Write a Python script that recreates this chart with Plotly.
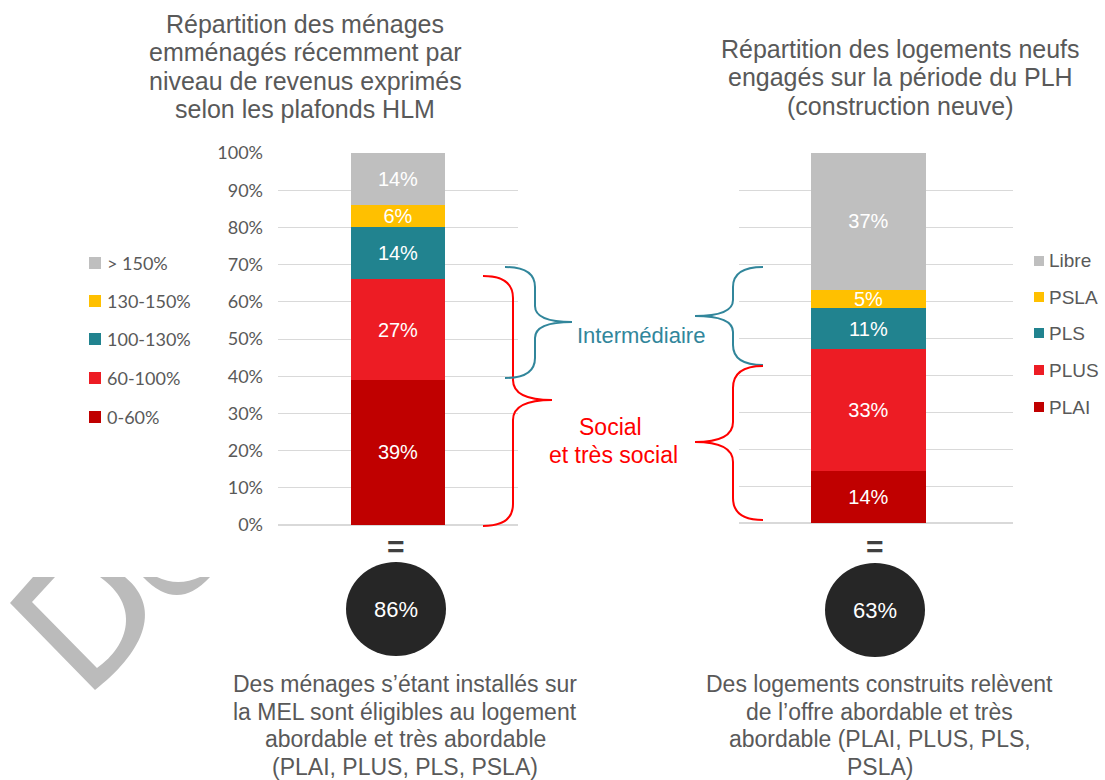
import plotly.graph_objects as go

W, H = 1105, 780

# ---------------- data ----------------
left_categories = ["0-60%", "60-100%", "100-130%", "130-150%", "> 150%"]
left_values = [39, 27, 14, 6, 14]
right_categories = ["PLAI", "PLUS", "PLS", "PSLA", "Libre"]
right_values = [14, 33, 11, 5, 37]
seg_colors = ["#C00000", "#ED1C24", "#21838F", "#FFC000", "#BFBFBF"]
tick_values = [0, 10, 20, 30, 40, 50, 60, 70, 80, 90, 100]
tick_labels = [f"{v}%" for v in tick_values]

left_title = ["Répartition des ménages", "emménagés récemment par",
              "niveau de revenus exprimés", "selon les plafonds HLM"]
right_title = ["Répartition des logements neufs", "engagés sur la période du PLH",
               "(construction neuve)"]
left_caption = ["Des ménages s’étant installés sur", "la MEL sont éligibles au logement",
                "abordable et très abordable", "(PLAI, PLUS, PLS, PSLA)"]
right_caption = ["Des logements construits relèvent", "de l’offre abordable et très",
                 "abordable (PLAI, PLUS, PLS,", "PSLA)"]
left_total = sum(left_values[:4])     # 86
right_total = sum(right_values[:4])   # 63

# ---------------- helpers ----------------
ARIAL = "Liberation Sans, Arial, sans-serif"
CALIBRI = "Lato, Carlito, Calibri, sans-serif"
GREY_TXT = "#595959"
TEAL = "#31869B"
RED = "#FF0000"


def fx(x):
    return x / W


def fy(y):
    return 1 - y / H


def P(x, y):
    return f"{fx(x):.5f},{fy(y):.5f}"


def label(x, y, text, size, color, family=ARIAL, xanchor="center"):
    return dict(x=fx(x), y=fy(y), text=text, showarrow=False, xref="paper", yref="paper",
                xanchor=xanchor, yanchor="middle",
                font=dict(family=family, size=size, color=color))


fig = go.Figure()

for cat, val, col in zip(left_categories, left_values, seg_colors):
    fig.add_trace(go.Bar(
        x=["Ménages"], y=[val], name=cat, marker=dict(color=col, line=dict(width=0)),
        width=[0.392], text=[val], texttemplate="%{text}%", textposition="inside",
        insidetextanchor="middle", textangle=0, constraintext="none",
        textfont=dict(family=ARIAL, size=20, color="white"),
        xaxis="x", yaxis="y", showlegend=False, hoverinfo="skip"))

for cat, val, col in zip(right_categories, right_values, seg_colors):
    fig.add_trace(go.Bar(
        x=["Logements"], y=[val], name=cat, marker=dict(color=col, line=dict(width=0)),
        width=[0.42], text=[val], texttemplate="%{text}%", textposition="inside",
        insidetextanchor="middle", textangle=0, constraintext="none",
        textfont=dict(family=ARIAL, size=20, color="white"),
        xaxis="x2", yaxis="y2", showlegend=False, hoverinfo="skip"))

ann = []
shapes = []

# titles
for i, t in enumerate(left_title):
    ann.append(label(305, 24 + i * 28.5, t, 25, GREY_TXT))
for i, t in enumerate(right_title):
    ann.append(label(900, 49 + i * 28.5, t, 25, GREY_TXT))

# captions
for i, t in enumerate(left_caption):
    ann.append(label(405, 684 + i * 27.5, t, 23, GREY_TXT))
for i, t in enumerate(right_caption):
    ann.append(label(880, 684 + i * 27.5, t, 23, GREY_TXT))

# legends (manual)
left_leg_y = [417, 378, 339, 301, 263]
for cat, col, yy in zip(left_categories, seg_colors, left_leg_y):
    shapes.append(dict(type="rect", xref="paper", yref="paper",
                       x0=fx(89), x1=fx(101), y0=fy(yy - 6), y1=fy(yy + 6),
                       fillcolor=col, line=dict(width=0)))
    ann.append(label(105, yy, cat, 18, GREY_TXT, CALIBRI, "left"))
right_leg_y = [407, 370, 333, 297, 261]
for cat, col, yy in zip(right_categories, seg_colors, right_leg_y):
    shapes.append(dict(type="rect", xref="paper", yref="paper",
                       x0=fx(1034), x1=fx(1044), y0=fy(yy - 5), y1=fy(yy + 5),
                       fillcolor=col, line=dict(width=0)))
    ann.append(label(1047, yy, cat, 19, GREY_TXT, ARIAL, "left"))


# braces
def brace(x0, xs, xt, yt, yb, ym, d1, d2):
    return (f"M {P(x0, yt)} Q {P(xs, yt)} {P(xs, yt + d1)} L {P(xs, ym - d2)} "
            f"Q {P(xs, ym)} {P(xt, ym)} Q {P(xs, ym)} {P(xs, ym + d2)} "
            f"L {P(xs, yb - d1)} Q {P(xs, yb)} {P(x0, yb)}")


for (x0, xs, xt, yt, yb, ym, d1, d2, col) in [
        (483, 513, 552, 276, 526, 400, 22, 20, RED),
        (505, 535, 572, 267, 378, 322, 20, 16, TEAL),
        (763, 733, 695, 267, 365, 316, 20, 16, TEAL),
        (763, 733, 695, 366, 520, 442, 22, 20, RED)]:
    shapes.append(dict(type="path", xref="paper", yref="paper",
                       path=brace(x0, xs, xt, yt, yb, ym, d1, d2),
                       line=dict(color=col, width=2)))

ann.append(label(641, 335, "Intermédiaire", 22, TEAL))
ann.append(label(610, 427, "Social", 23, RED))
ann.append(label(613, 455, "et très social", 23, RED))

# "=" and total circles
for cx, cy, tot in [(396, 609, left_total), (875, 610, right_total)]:
    ann.append(label(cx, 546, "<b>=</b>", 30, "#404040"))
    shapes.append(dict(type="circle", xref="paper", yref="paper",
                       x0=fx(cx - 50), x1=fx(cx + 50), y0=fy(cy - 47), y1=fy(cy + 47),
                       fillcolor="#262626", line=dict(width=0)))
    ann.append(label(cx, cy, f"{tot}%", 22, "white"))

# watermark fragment ("Do")
wm = "#BBBBBB"
d_path = (f"M {P(33, 577)} L {P(10, 603)} L {P(95, 690)} "
          f"C {P(140, 655)} {P(165, 610)} {P(125, 577)} L {P(100, 577)} "
          f"C {P(140, 605)} {P(130, 645)} {P(97, 668)} L {P(32, 602)} L {P(55, 577)} Z")
o_path = (f"M {P(143, 577)} Q {P(177, 613)} {P(210, 577)} L {P(200, 577)} "
          f"Q {P(178, 587)} {P(157, 577)} Z")
for pth in (d_path, o_path):
    shapes.append(dict(type="path", xref="paper", yref="paper", path=pth,
                       fillcolor=wm, line=dict(width=0), layer="below"))

grid = dict(showgrid=True, gridcolor="#D9D9D9", gridwidth=1.3, zeroline=True,
            zerolinecolor="#D9D9D9", zerolinewidth=1.5, range=[0, 100],
            tickmode="array", tickvals=tick_values, fixedrange=True, automargin=False)

fig.update_layout(
    width=W, height=H, autosize=False,
    margin=dict(l=0, r=0, t=0, b=0, pad=0, autoexpand=False),
    paper_bgcolor="white", plot_bgcolor="rgba(0,0,0,0)",
    barmode="stack", showlegend=False,
    xaxis=dict(domain=[fx(278), fx(518)], range=[-0.5, 0.5], showticklabels=False,
               showgrid=False, zeroline=False, fixedrange=True, automargin=False),
    yaxis=dict(domain=[fy(525), fy(153)], ticktext=tick_labels, ticklabelstandoff=14,
               tickfont=dict(family=CALIBRI, size=18, color=GREY_TXT), **grid),
    xaxis2=dict(domain=[fx(739), fx(1013)], range=[-0.4726, 0.5274], showticklabels=False,
                showgrid=False, zeroline=False, fixedrange=True, anchor="y2", automargin=False),
    yaxis2=dict(domain=[fy(523), fy(153)], showticklabels=False, anchor="x2", **grid),
    annotations=ann, shapes=shapes,
)

fig.write_html("out.html", config={"displayModeBar": False},
               post_script="document.body.style.margin='0';document.body.style.overflow='hidden';")
